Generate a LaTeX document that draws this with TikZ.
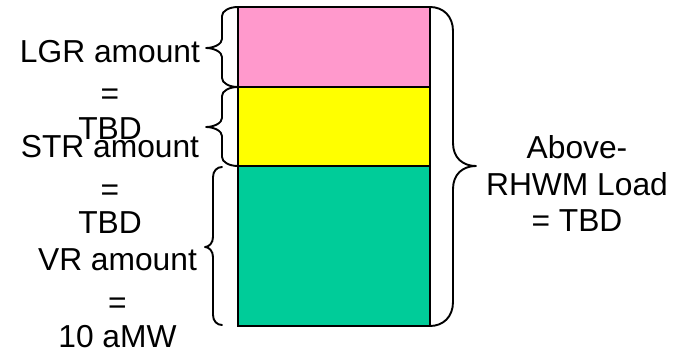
\documentclass[tikz,border=0pt]{standalone}
\usepackage{fontspec}
\setmainfont{Liberation Sans}
\definecolor{lgrpink}{HTML}{FF99CC}
\definecolor{stryellow}{HTML}{FFFF00}
\definecolor{vrgreen}{HTML}{00CC99}
\begin{document}
\begin{tikzpicture}[x=1pt,y=-1pt,
  box/.style={draw=black, line width=2.6pt, inner sep=0pt, outer sep=0pt, minimum width=192pt},
  brace/.style={draw=black, line width=1.9pt, line join=round, line cap=round},
  lbl/.style={font=\fontsize{31.75}{38}\selectfont, inner sep=0pt, anchor=base}
]
\useasboundingbox (0,0) rectangle (680,348);

% stacked load blocks
\node[box, fill=lgrpink,   minimum height=80pt]  (lgrbox) at (334,47) {};
\node[box, fill=stryellow, minimum height=79pt]  (strbox) at (334,126.5) {};
\node[box, fill=vrgreen,   minimum height=160pt] (vrbox)  at (334,246) {};

% brace tips
\coordinate (lgrtip) at (206,48);
\coordinate (strtip) at (206,127);
\coordinate (vrtip)  at (205,247);
\coordinate (vrtop)  at (222,167);
\coordinate (vrbot)  at (222,325);
\coordinate (alltip) at (476,166);

% left braces
\draw[brace] (lgrbox.north west) .. controls (229,7) and (222,11) .. (222,16) -- (222,39)
  .. controls (222,44) and (214,48) .. (lgrtip) .. controls (214,48) and (222,52) .. (222,57)
  -- (222,78) .. controls (222,83) and (229,87) .. (lgrbox.south west);
\draw[brace] (strbox.north west) .. controls (229,87) and (222,91) .. (222,96) -- (222,118)
  .. controls (222,123) and (214,127) .. (strtip) .. controls (214,127) and (222,131) .. (222,136)
  -- (222,157) .. controls (222,162) and (229,166) .. (strbox.south west);
\draw[brace] (vrtop) .. controls (217,167) and (213,171) .. (213,177) -- (213,237)
  .. controls (213,243) and (209,247) .. (vrtip) .. controls (209,247) and (213,251) .. (213,257)
  -- (213,315) .. controls (213,321) and (217,325) .. (vrbot);

% right brace over all blocks
\draw[brace] (lgrbox.north east) .. controls (443,7) and (453,16) .. (453,31) -- (453,143)
  .. controls (453,158) and (463,166) .. (alltip) .. controls (463,166) and (453,174) .. (453,189)
  -- (453,302) .. controls (453,317) and (443,326) .. (vrbox.south east);

% labels
\node[lbl] (lgr1) at (110,62)    {LGR amount};
\node[lbl] (lgr2) at (110,104)   {=};
\node[lbl] (lgr3) at (110,139)   {TBD};
\node[lbl] (str1) at (110,157)   {STR amount};
\node[lbl] (str2) at (110,200.5) {=};
\node[lbl] (str3) at (110,233)   {TBD};
\node[lbl] (vr1)  at (117.5,270) {VR amount};
\node[lbl] (vr2)  at (117.5,313) {=};
\node[lbl] (vr3)  at (117.5,347) {10 aMW};
\node[lbl] (all1) at (577,158)   {Above-};
\node[lbl] (all2) at (577,195)   {RHWM Load};
\node[lbl] (all3) at (577,231)   {= TBD};
\end{tikzpicture}
\end{document}
